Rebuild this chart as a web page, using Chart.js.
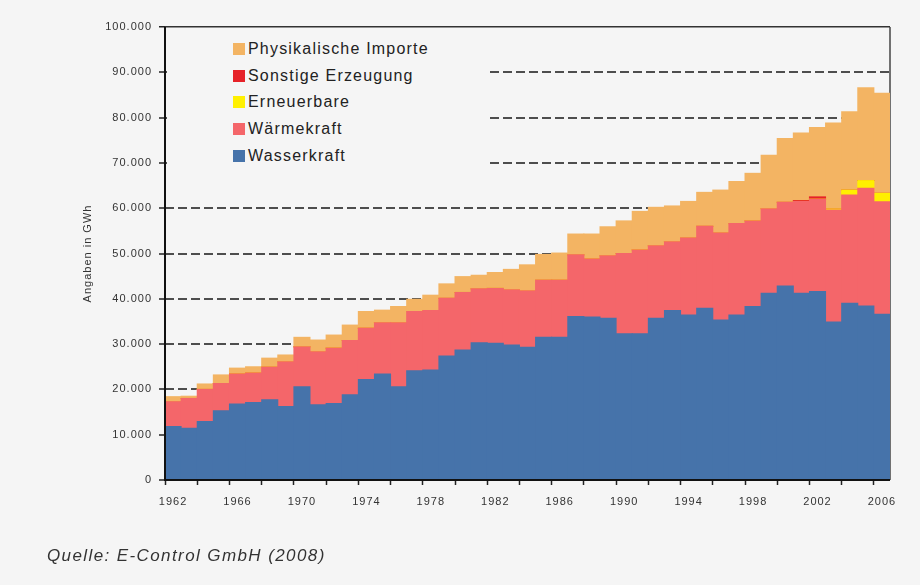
<!doctype html>
<html lang="de">
<head>
<meta charset="utf-8">
<title>Stromaufbringung</title>
<script src="https://cdn.jsdelivr.net/npm/chart.js@4.4.1/dist/chart.umd.min.js"></script>
<style>
  body { margin: 0; background: #f5f5f5; font-family: "Liberation Sans", Arial, sans-serif; }
  #wrap { position: relative; width: 920px; height: 585px; }
  #legend {
    position: absolute; left: 167px; top: 36px; width: 323px; height: 138px;
    background: #f5f5f5; box-sizing: border-box; padding-left: 66px;
  }
  #legend div { height: 26.6px; display: flex; align-items: center; font-size: 16px; letter-spacing: 1.2px; color: #222; }
  #legend span.sw { display: inline-block; width: 12px; height: 12px; margin-right: 3px; }
  #quelle {
    position: absolute; left: 47px; top: 546px; font-style: italic; font-size: 17px;
    letter-spacing: 1.4px; color: #333;
  }
</style>
</head>
<body>
<div id="wrap">
  <canvas id="myChart"></canvas>
  <div id="legend"></div>
  <div id="quelle">Quelle: E-Control GmbH (2008)</div>
</div>
<script>
// Jahre
const years = ['1962','1963','1964','1965','1966','1967','1968','1969','1970','1971',
  '1972','1973','1974','1975','1976','1977','1978','1979','1980','1981',
  '1982','1983','1984','1985','1986','1987','1988','1989','1990','1991',
  '1992','1993','1994','1995','1996','1997','1998','1999','2000','2001',
  '2002','2003','2004','2005','2006'];

// Werte in GWh
const wasserkraft = [11800,11400,12900,15300,16800,17100,17700,16200,20600,16600,
  16900,18800,22200,23400,20600,24100,24300,27400,28700,30300,
  30200,29800,29300,31500,31500,36100,36000,35700,32300,32300,
  35700,37400,36400,37900,35300,36400,38300,41200,42800,41200,
  41600,34900,39000,38400,36600];
const waermekraft = [5500,6600,7100,6000,6600,6500,7200,9900,8800,11700,
  12200,12000,11300,11300,14100,13100,13100,12700,12700,11900,
  12100,12200,12500,12600,12600,13600,12800,13800,17700,18500,
  16000,15200,17000,18100,19200,20200,18900,18700,18500,20300,
  20400,24700,23900,26000,24800];
const erneuerbare = [0,0,0,0,0,0,0,0,0,0,
  0,0,0,0,0,0,0,0,0,0,
  0,0,0,0,0,0,0,0,0,0,
  0,0,0,0,0,0,0,0,0,0,
  0,200,1100,1700,1900];
const sonstige = [0,0,0,0,0,0,0,0,0,0,
  0,0,0,0,0,0,0,0,0,0,
  0,0,0,0,0,0,0,0,0,0,
  0,0,0,0,0,0,0,0,0,200,
  500,0,0,0,0];
const importe = [1100,500,1200,1900,1300,1400,2000,1500,2100,2600,
  2900,3400,3700,2800,3600,2700,3400,3200,3500,3000,
  3500,4500,5700,5700,6000,4600,5500,6400,7200,8500,
  8500,7900,8100,7500,9500,9300,10500,11800,14100,14900,
  15300,19000,17300,20500,22100];

const seriesNames = ['Wasserkraft', 'Wärmekraft', 'Erneuerbare', 'Sonstige Erzeugung', 'Physikalische Importe'];
const seriesColors = ['#4673aa', '#f4666a', '#fff000', '#e62228', '#f3b463'];
const seriesData = [wasserkraft, waermekraft, erneuerbare, sonstige, importe];

const datasets = seriesData.map((d, i) => ({
  label: seriesNames[i],
  data: d,
  backgroundColor: seriesColors[i],
  borderWidth: 0,
  barPercentage: 1,
  categoryPercentage: 1,
  inflateAmount: 0.5
}));

// Legende (HTML, oben = letzte Reihe)
const legendBox = document.getElementById('legend');
for (let i = seriesNames.length - 1; i >= 0; i--) {
  const row = document.createElement('div');
  row.innerHTML = '<span class="sw" style="background:' + seriesColors[i] + '"></span>' + seriesNames[i];
  legendBox.appendChild(row);
}

const spacing = {
  id: 'spacing',
  beforeUpdate(chart) { chart.ctx.letterSpacing = '1px'; },
  beforeDraw(chart) { chart.ctx.letterSpacing = '1px'; },
  beforeDatasetsDraw(chart) {
    // rechter Rahmen, liegt hinter den Daten
    const a = chart.chartArea, ctx = chart.ctx;
    ctx.save();
    ctx.strokeStyle = '#444';
    ctx.lineWidth = 1.5;
    ctx.beginPath();
    ctx.moveTo(a.right, a.top);
    ctx.lineTo(a.right, a.bottom);
    ctx.stroke();
    ctx.restore();
  },
  afterDatasetsDraw(chart) {
    // Achsenlinien
    const a = chart.chartArea, ctx = chart.ctx;
    ctx.save();
    ctx.strokeStyle = '#111';
    ctx.lineWidth = 2;
    ctx.beginPath();
    ctx.moveTo(a.left, a.top);
    ctx.lineTo(a.left, a.bottom);
    ctx.lineTo(a.right, a.bottom);
    ctx.stroke();
    ctx.restore();
  }
};

const ctx = document.getElementById('myChart');
new Chart(ctx, {
  type: 'bar',
  data: { labels: years, datasets: datasets },
  plugins: [spacing],
  options: {
    responsive: true,
    maintainAspectRatio: false,
    animation: false,
    layout: { padding: { top: 27, right: 30, left: 0, bottom: 0 } },
    plugins: { legend: { display: false }, tooltip: { enabled: false } },
    scales: {
      x: {
        stacked: true,
        offset: true,
        afterFit: (s) => { s.height = 105; },
        grid: {
          offset: true,
          drawOnChartArea: false,
          tickLength: 5,
          tickWidth: 1.5,
          tickColor: (c) => (c.index % 2 === 0 ? '#222' : 'rgba(0,0,0,0)')
        },
        border: { display: false },
        ticks: {
          autoSkip: false,
          maxRotation: 0,
          padding: 10,
          color: '#333',
          font: { family: 'Liberation Sans', size: 11 },
          callback: function (v, i) { return i % 4 === 0 ? this.getLabelForValue(v) : ''; }
        }
      },
      y: {
        stacked: true,
        min: 0,
        max: 100000,
        afterFit: (s) => { s.width = 165; },
        grid: {
          color: (c) => {
            if (!c.tick || c.tick.value === 0) return 'rgba(0,0,0,0)';
            if (c.tick.value === 100000) return '#333';
            return '#4d4d4d';
          },
          lineWidth: (c) => (c.tick && c.tick.value === 100000 ? 1.5 : 2),
          tickColor: '#222',
          tickLength: 6,
          tickWidth: 1.5
        },
        border: {
          display: false,
          dash: (c) => (c.tick && c.tick.value === 100000 ? [] : [9, 4])
        },
        ticks: {
          stepSize: 10000,
          padding: 7,
          color: '#333',
          font: { family: 'Liberation Sans', size: 11 },
          callback: (v) => v.toLocaleString('de-DE')
        },
        title: {
          display: true,
          text: 'Angaben in GWh',
          color: '#333',
          font: { family: 'Liberation Sans', size: 11 },
          padding: { top: 81, bottom: 0 }
        }
      }
    }
  }
});
</script>
</body>
</html>
